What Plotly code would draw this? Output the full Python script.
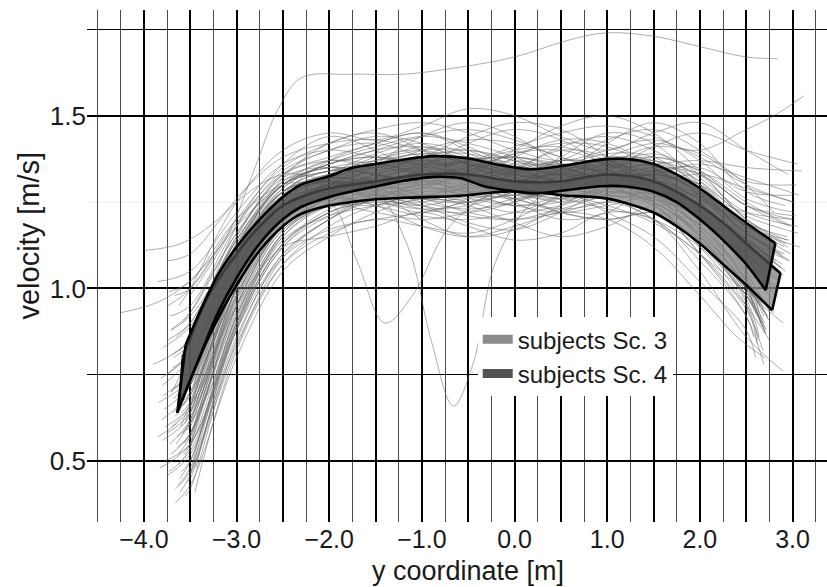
import plotly.graph_objects as go

# ---------------- data ----------------
GRID_X = [-3.5, -3.0, -2.5, -2.0, -1.5, -1.0, -0.5, 0.0, 0.5, 1.0, 1.5, 2.0, 2.5]

# each row: start x, start v, v at GRID_X (None = outside), end x, end v
subjects = [
    [-3.72, 0.55, 0.62, 0.97, 1.18, 1.26, 1.29, 1.31, 1.33, 1.30, 1.28, 1.31, 1.30, 1.22, 1.06, 2.78, 0.97],
    [-3.66, 0.63, 0.70, 1.06, 1.26, 1.31, 1.29, 1.30, 1.35, 1.38, 1.35, 1.31, 1.28, 1.24, 1.14, 2.92, 1.05],
    [-3.80, 0.72, 0.80, 1.12, 1.30, 1.34, 1.37, 1.41, 1.38, 1.33, 1.30, 1.35, 1.39, 1.33, 1.20, 2.95, 1.12],
    [-3.61, 0.45, 0.50, 0.90, 1.14, 1.21, 1.24, 1.27, 1.25, 1.22, 1.24, 1.28, 1.25, 1.15, 0.99, 2.70, 0.90],
    [-3.75, 0.85, 0.90, 1.15, 1.33, 1.40, 1.42, 1.38, 1.33, 1.35, 1.41, 1.44, 1.40, 1.32, 1.22, 3.05, 1.18],
    [-3.55, 0.40, 0.42, 0.85, 1.10, 1.20, 1.26, 1.30, 1.29, 1.26, 1.22, 1.20, 1.22, 1.17, 1.02, 2.65, 0.95],
    [-3.68, 0.68, 0.74, 1.08, 1.27, 1.33, 1.31, 1.27, 1.25, 1.28, 1.33, 1.36, 1.33, 1.25, 1.10, 2.85, 1.02],
    [-3.47, 0.50, None, 0.92, 1.16, 1.25, 1.28, 1.26, 1.30, 1.34, 1.33, 1.29, 1.26, 1.21, 1.12, 2.80, 1.06],
    [-3.90, 0.78, 0.85, 1.13, 1.29, 1.36, 1.38, 1.35, 1.30, 1.27, 1.26, 1.30, 1.34, 1.30, 1.18, 2.98, 1.10],
    [-3.58, 0.58, 0.62, 1.00, 1.22, 1.30, 1.34, 1.36, 1.35, 1.31, 1.28, 1.28, 1.25, 1.15, 0.98, 2.62, 0.92],
    [-3.74, 0.95, 1.00, 1.20, 1.35, 1.42, 1.46, 1.48, 1.45, 1.40, 1.37, 1.40, 1.43, 1.38, 1.30, 3.00, 1.25],
    [-3.63, 0.52, 0.57, 0.93, 1.17, 1.24, 1.22, 1.20, 1.22, 1.26, 1.27, 1.24, 1.19, 1.10, 0.95, 2.75, 0.85],
    [-3.52, 0.60, 0.61, 1.02, 1.23, 1.29, 1.33, 1.38, 1.40, 1.37, 1.32, 1.30, 1.31, 1.27, 1.16, 2.88, 1.10],
    [-3.70, 0.88, 0.92, 1.12, 1.28, 1.32, 1.30, 1.28, 1.29, 1.33, 1.36, 1.34, 1.28, 1.20, 1.10, 2.90, 1.04],
    [-3.44, 0.48, None, 0.88, 1.12, 1.22, 1.25, 1.24, 1.21, 1.20, 1.23, 1.27, 1.30, 1.26, 1.14, 2.82, 1.08],
    [-3.78, 0.65, 0.72, 1.05, 1.24, 1.30, 1.35, 1.40, 1.43, 1.42, 1.38, 1.33, 1.30, 1.24, 1.12, 2.86, 1.03],
    [-3.60, 0.75, 0.79, 1.10, 1.28, 1.33, 1.36, 1.33, 1.29, 1.30, 1.34, 1.38, 1.37, 1.30, 1.18, 2.96, 1.14],
    [-3.66, 0.42, 0.47, 0.86, 1.09, 1.17, 1.20, 1.22, 1.25, 1.27, 1.26, 1.23, 1.20, 1.12, 0.98, 2.72, 0.88],
    [-3.85, 1.02, 1.05, 1.22, 1.36, 1.40, 1.38, 1.36, 1.37, 1.41, 1.45, 1.47, 1.44, 1.37, 1.26, 3.02, 1.22],
    [-3.57, 0.55, 0.58, 0.96, 1.19, 1.27, 1.30, 1.32, 1.31, 1.29, 1.30, 1.33, 1.32, 1.22, 1.05, 2.68, 0.96],
    [-3.71, 0.70, 0.76, 1.08, 1.26, 1.28, 1.27, 1.29, 1.33, 1.36, 1.35, 1.31, 1.26, 1.18, 1.04, 2.76, 0.93],
    [-3.49, 0.66, None, 1.05, 1.25, 1.32, 1.35, 1.37, 1.34, 1.30, 1.27, 1.29, 1.33, 1.29, 1.19, 2.94, 1.15],
    [-3.77, 0.60, 0.66, 1.00, 1.21, 1.26, 1.25, 1.23, 1.24, 1.28, 1.32, 1.33, 1.29, 1.19, 1.03, 2.74, 0.91],
    [-3.62, 0.82, 0.86, 1.14, 1.31, 1.37, 1.41, 1.44, 1.42, 1.38, 1.33, 1.31, 1.34, 1.35, 1.28, 3.00, 1.27],
    [-3.54, 0.44, 0.45, 0.89, 1.13, 1.23, 1.28, 1.31, 1.30, 1.26, 1.23, 1.25, 1.28, 1.24, 1.10, 2.84, 1.00],
    [-3.82, 0.74, 0.81, 1.10, 1.27, 1.31, 1.29, 1.25, 1.23, 1.25, 1.29, 1.30, 1.26, 1.16, 1.00, 2.66, 0.90],
    [-3.64, 0.57, 0.61, 0.99, 1.21, 1.30, 1.36, 1.39, 1.36, 1.32, 1.30, 1.33, 1.36, 1.31, 1.20, 2.93, 1.13],
    [-3.46, 0.72, None, 1.09, 1.28, 1.34, 1.33, 1.30, 1.27, 1.27, 1.30, 1.32, 1.28, 1.17, 1.01, 2.70, 0.93],
    [-3.73, 0.47, 0.53, 0.91, 1.15, 1.25, 1.30, 1.34, 1.37, 1.38, 1.36, 1.33, 1.29, 1.22, 1.09, 2.83, 0.99],
    [-3.59, 0.90, 0.93, 1.16, 1.31, 1.35, 1.37, 1.39, 1.39, 1.36, 1.33, 1.36, 1.41, 1.39, 1.31, 3.04, 1.30],
    [-3.69, 0.64, 0.69, 1.04, 1.24, 1.28, 1.26, 1.24, 1.27, 1.31, 1.33, 1.30, 1.24, 1.13, 0.97, 2.64, 0.86],
    [-3.51, 0.53, 0.54, 0.95, 1.18, 1.26, 1.30, 1.33, 1.34, 1.33, 1.31, 1.28, 1.27, 1.21, 1.08, 2.80, 1.01],
    [-3.79, 0.83, 0.89, 1.14, 1.30, 1.35, 1.33, 1.31, 1.30, 1.29, 1.31, 1.35, 1.37, 1.31, 1.17, 2.97, 1.08],
    [-3.61, 0.68, 0.72, 1.05, 1.25, 1.33, 1.39, 1.42, 1.39, 1.34, 1.32, 1.34, 1.31, 1.20, 1.02, 2.69, 0.92],
    [-3.45, 0.41, None, 0.82, 1.07, 1.18, 1.24, 1.27, 1.26, 1.24, 1.25, 1.29, 1.30, 1.23, 1.08, 2.81, 0.98],
    [-3.76, 0.58, 0.64, 1.00, 1.22, 1.29, 1.32, 1.31, 1.28, 1.26, 1.28, 1.31, 1.30, 1.24, 1.13, 2.88, 1.06],
    [-3.67, 0.98, 1.00, 1.19, 1.33, 1.37, 1.36, 1.34, 1.35, 1.39, 1.42, 1.41, 1.35, 1.27, 1.16, 2.91, 1.10],
    [-3.56, 0.61, 0.64, 1.02, 1.23, 1.30, 1.31, 1.29, 1.30, 1.34, 1.37, 1.36, 1.31, 1.22, 1.10, 2.77, 1.03],
    [-3.84, 0.67, 0.74, 1.06, 1.24, 1.27, 1.24, 1.21, 1.20, 1.22, 1.26, 1.28, 1.27, 1.21, 1.09, 2.87, 1.02],
    [-3.63, 0.49, 0.54, 0.92, 1.16, 1.25, 1.31, 1.36, 1.38, 1.35, 1.30, 1.26, 1.22, 1.14, 0.99, 2.71, 0.87],
    [-3.48, 0.79, None, 1.12, 1.30, 1.36, 1.40, 1.41, 1.37, 1.32, 1.30, 1.32, 1.35, 1.33, 1.24, 2.99, 1.20],
    [-3.71, 0.52, 0.58, 0.95, 1.18, 1.24, 1.26, 1.27, 1.29, 1.30, 1.29, 1.27, 1.26, 1.21, 1.11, 2.85, 1.05],
    [-3.58, 0.73, 0.77, 1.09, 1.27, 1.31, 1.29, 1.26, 1.26, 1.29, 1.35, 1.39, 1.38, 1.29, 1.14, 2.79, 1.06],
    [-3.80, 0.56, 0.63, 0.98, 1.20, 1.28, 1.33, 1.35, 1.33, 1.28, 1.25, 1.27, 1.32, 1.30, 1.21, 3.06, 1.16],
    [-3.53, 0.63, 0.64, 1.03, 1.24, 1.30, 1.29, 1.30, 1.34, 1.39, 1.40, 1.36, 1.29, 1.17, 1.00, 2.67, 0.89],
    [-3.65, 0.86, 0.90, 1.14, 1.30, 1.34, 1.36, 1.37, 1.36, 1.33, 1.31, 1.30, 1.28, 1.23, 1.14, 2.89, 1.07],
    [-3.74, 0.46, 0.52, 0.89, 1.13, 1.22, 1.27, 1.29, 1.27, 1.24, 1.22, 1.24, 1.26, 1.18, 1.02, 2.73, 0.92],
    [-3.57, 0.69, 0.72, 1.06, 1.26, 1.33, 1.35, 1.33, 1.31, 1.31, 1.34, 1.37, 1.37, 1.33, 1.24, 2.97, 1.18],
    [-3.50, 0.55, None, 0.97, 1.20, 1.28, 1.32, 1.35, 1.36, 1.34, 1.31, 1.29, 1.25, 1.16, 1.01, 2.60, 0.95],
    [-3.69, 0.77, 0.81, 1.10, 1.28, 1.32, 1.31, 1.30, 1.32, 1.35, 1.36, 1.33, 1.27, 1.15, 0.96, 2.63, 0.85],
    [-3.62, 0.95, 1.00, 1.25, 1.40, 1.45, 1.43, 1.47, 1.52, 1.50, 1.44, 1.40, 1.45, 1.48, 1.40, 2.95, 1.33],
    [-3.70, 0.60, 0.66, 0.95, 1.12, 1.15, 1.18, 1.22, 1.18, 1.14, 1.16, 1.22, 1.20, 1.08, 0.92, 2.58, 0.86],
    [-3.55, 0.72, 0.74, 1.10, 1.32, 1.42, 1.45, 1.40, 1.32, 1.28, 1.33, 1.42, 1.48, 1.42, 1.28, 2.92, 1.24],
    [-3.78, 0.50, 0.55, 0.88, 1.10, 1.20, 1.28, 1.35, 1.42, 1.46, 1.43, 1.35, 1.25, 1.10, 0.94, 2.68, 0.82],
    [-3.48, 0.84, None, 1.18, 1.36, 1.44, 1.40, 1.33, 1.28, 1.30, 1.38, 1.45, 1.42, 1.30, 1.18, 3.08, 1.12],
    [-3.66, 0.38, 0.43, 0.80, 1.05, 1.15, 1.22, 1.26, 1.24, 1.19, 1.15, 1.18, 1.24, 1.22, 1.12, 2.86, 1.04],
    [-3.74, 1.08, 1.10, 1.25, 1.33, 1.31, 1.26, 1.22, 1.26, 1.34, 1.40, 1.38, 1.30, 1.18, 1.05, 2.75, 0.98],
    [-3.59, 0.47, 0.50, 0.90, 1.16, 1.27, 1.36, 1.44, 1.48, 1.44, 1.36, 1.30, 1.28, 1.27, 1.22, 3.00, 1.20],
    [-3.81, 0.62, 0.70, 1.02, 1.22, 1.30, 1.28, 1.20, 1.15, 1.17, 1.24, 1.30, 1.33, 1.28, 1.16, 2.90, 1.09],
    [-3.52, 0.56, 0.57, 0.98, 1.21, 1.28, 1.27, 1.25, 1.30, 1.38, 1.43, 1.42, 1.35, 1.22, 1.04, 2.64, 0.93],
    [-3.68, 0.80, 0.84, 1.13, 1.30, 1.36, 1.40, 1.44, 1.46, 1.43, 1.38, 1.35, 1.36, 1.37, 1.35, 3.10, 1.34],
    [-3.63, 0.43, 0.48, 0.84, 1.07, 1.16, 1.20, 1.18, 1.16, 1.20, 1.27, 1.32, 1.30, 1.20, 1.02, 2.70, 0.88],
    [-3.46, 0.68, None, 1.03, 1.24, 1.32, 1.38, 1.40, 1.36, 1.28, 1.22, 1.20, 1.22, 1.19, 1.10, 2.83, 1.03],
    [-3.76, 0.75, 0.82, 1.12, 1.30, 1.37, 1.35, 1.38, 1.44, 1.48, 1.46, 1.38, 1.28, 1.14, 0.98, 2.71, 0.87],
    [-3.57, 0.52, 0.55, 0.94, 1.17, 1.24, 1.29, 1.33, 1.31, 1.25, 1.20, 1.22, 1.30, 1.33, 1.29, 3.02, 1.25],
    [-3.71, 0.88, 0.93, 1.16, 1.32, 1.35, 1.31, 1.27, 1.28, 1.33, 1.37, 1.36, 1.30, 1.22, 1.14, 2.96, 1.08],
    [-3.60, 0.64, 0.67, 1.04, 1.27, 1.37, 1.42, 1.45, 1.41, 1.35, 1.31, 1.34, 1.41, 1.45, 1.40, 3.05, 1.36],
    [-3.85, 0.57, 0.65, 0.98, 1.18, 1.24, 1.24, 1.26, 1.31, 1.33, 1.29, 1.22, 1.15, 1.02, 0.88, 2.60, 0.80],
    [-3.50, 0.46, None, 0.88, 1.12, 1.21, 1.26, 1.24, 1.19, 1.17, 1.22, 1.29, 1.33, 1.28, 1.15, 2.88, 1.06],
    [-3.66, 0.71, 0.75, 1.08, 1.28, 1.34, 1.33, 1.31, 1.33, 1.40, 1.47, 1.50, 1.45, 1.34, 1.20, 2.94, 1.14],
    [-3.73, 0.99, 1.02, 1.20, 1.30, 1.30, 1.28, 1.29, 1.34, 1.37, 1.34, 1.27, 1.20, 1.10, 0.98, 2.66, 0.90],
    [-3.54, 0.59, 0.60, 1.00, 1.23, 1.31, 1.37, 1.40, 1.40, 1.37, 1.34, 1.31, 1.27, 1.18, 1.02, 2.57, 0.95],
    [-3.79, 0.69, 0.76, 1.07, 1.25, 1.30, 1.31, 1.33, 1.37, 1.38, 1.35, 1.32, 1.33, 1.36, 1.32, 3.07, 1.27],
    [-3.61, 0.41, 0.46, 0.83, 1.09, 1.20, 1.26, 1.28, 1.30, 1.32, 1.34, 1.34, 1.28, 1.17, 1.01, 2.74, 0.91],
    [-3.69, 0.81, 0.85, 1.12, 1.28, 1.31, 1.27, 1.23, 1.22, 1.25, 1.31, 1.36, 1.38, 1.34, 1.25, 2.99, 1.18],
    [-3.64, 0.54, 0.58, 0.95, 1.18, 1.26, 1.30, 1.31, 1.28, 1.24, 1.27, 1.33, 1.34, 1.27, 1.12, 2.79, 0.99],
    [-3.47, 0.77, None, 1.10, 1.29, 1.36, 1.38, 1.36, 1.32, 1.28, 1.26, 1.27, 1.24, 1.12, 0.95, 2.62, 0.84],
    [-3.83, 0.48, 0.55, 0.90, 1.13, 1.22, 1.26, 1.31, 1.36, 1.40, 1.41, 1.37, 1.32, 1.26, 1.18, 2.91, 1.12],
    [-3.58, 0.66, 0.69, 1.05, 1.26, 1.32, 1.30, 1.26, 1.25, 1.30, 1.35, 1.33, 1.25, 1.10, 0.92, 2.69, 0.78],
    [-3.72, 0.92, 0.95, 1.18, 1.34, 1.40, 1.44, 1.42, 1.36, 1.31, 1.30, 1.34, 1.38, 1.34, 1.24, 3.03, 1.21],
]

# unusual trajectories, given point by point
outlier_x = [
    [-3.50, -3.1, -2.8, -2.55, -2.3, -1.8, -1.2, -0.6, 0.0, 0.6, 1.0, 1.5, 2.0, 2.5, 2.84],
    [-4.00, -3.6, -3.2, -2.9, -2.5, -2.0, -1.5, -1.0, -0.5, 0.0, 0.5, 1.0, 1.5, 2.0, 2.5, 2.8],
    [-3.60, -3.0, -2.5, -2.0, -1.5, -1.15, -0.9, -0.66, -0.45, -0.2, 0.2, 0.7, 1.2, 1.7, 2.2, 2.6, 2.9],
    [-3.70, -3.0, -2.5, -2.0, -1.7, -1.4, -1.1, -0.7, -0.2, 0.5, 1.0, 1.5, 2.0, 2.5, 2.8],
    [-3.60, -3.0, -2.5, -2.0, -1.5, -1.0, -0.5, 0.0, 0.5, 1.0, 1.5, 2.0, 2.5, 2.8, 3.12],
    [-4.25, -3.9, -3.6, -3.3, -3.0, -2.5, -2.0, -1.5, -1.0, -0.5, 0.0, 0.5, 1.0, 1.5, 2.0, 2.5, 2.75],
    [-3.65, -3.3, -3.0, -2.5, -2.0, -1.5, -1.0, -0.5, 0.0, 0.5, 1.0, 1.5, 2.0, 2.5, 2.9],
    [-3.55, -3.0, -2.5, -2.0, -1.5, -1.0, -0.5, 0.0, 0.5, 1.0, 1.5, 2.0, 2.4, 2.7],
]
outlier_v = [
    [0.98, 1.15, 1.35, 1.52, 1.61, 1.62, 1.62, 1.64, 1.67, 1.72, 1.74, 1.73, 1.70, 1.67, 1.665],
    [1.11, 1.13, 1.20, 1.29, 1.38, 1.42, 1.43, 1.40, 1.36, 1.34, 1.37, 1.43, 1.46, 1.40, 1.30, 1.22],
    [0.60, 1.00, 1.22, 1.30, 1.28, 1.12, 0.85, 0.66, 0.78, 1.08, 1.25, 1.30, 1.28, 1.22, 1.10, 0.97, 0.90],
    [0.70, 1.05, 1.25, 1.25, 1.08, 0.90, 0.98, 1.18, 1.28, 1.30, 1.27, 1.25, 1.15, 1.00, 0.93],
    [0.80, 1.15, 1.33, 1.38, 1.42, 1.45, 1.40, 1.35, 1.33, 1.38, 1.42, 1.40, 1.46, 1.50, 1.557],
    [0.93, 0.955, 1.00, 1.08, 1.18, 1.30, 1.35, 1.33, 1.30, 1.28, 1.30, 1.33, 1.31, 1.27, 1.20, 1.08, 1.00],
    [0.55, 0.70, 0.92, 1.15, 1.24, 1.27, 1.26, 1.22, 1.20, 1.22, 1.25, 1.20, 1.05, 0.86, 0.76],
    [0.62, 1.00, 1.20, 1.26, 1.24, 1.18, 1.15, 1.18, 1.22, 1.20, 1.12, 0.98, 0.86, 0.80],
]

# Sc. 3 band (lighter) boundaries
sc3_upper_x = [-3.58, -3.3, -3.0, -2.75, -2.5, -2.25, -2.0, -1.5, -1.0, -0.5, 0.0, 0.5, 1.0, 1.5, 2.0, 2.25, 2.5, 2.87]
sc3_upper_v = [0.80, 0.98, 1.10, 1.18, 1.24, 1.27, 1.29, 1.31, 1.33, 1.33, 1.31, 1.31, 1.33, 1.31, 1.24, 1.19, 1.13, 1.044]
sc3_lower_x = [-3.62, -3.3, -3.0, -2.75, -2.5, -2.31, -2.0, -1.77, -1.5, -1.23, -0.87, -0.5, -0.15, 0.2, 0.5, 1.0, 1.5, 1.75, 2.0, 2.25, 2.5, 2.78]
sc3_lower_v = [0.66, 0.86, 1.01, 1.11, 1.18, 1.215, 1.24, 1.25, 1.258, 1.262, 1.265, 1.27, 1.28, 1.28, 1.27, 1.26, 1.22, 1.18, 1.13, 1.07, 1.01, 0.937]

# Sc. 4 band (darker) boundaries
sc4_upper_x = [-3.55, -3.4, -3.2, -3.0, -2.75, -2.5, -2.31, -2.0, -1.77, -1.5, -1.23, -0.87, -0.51, -0.15, 0.2, 0.57, 0.93, 1.2, 1.5, 1.75, 2.0, 2.25, 2.5, 2.815]
sc4_upper_v = [0.836, 0.93, 1.04, 1.12, 1.20, 1.265, 1.30, 1.325, 1.348, 1.36, 1.372, 1.383, 1.377, 1.357, 1.345, 1.357, 1.373, 1.375, 1.36, 1.33, 1.29, 1.24, 1.19, 1.131]
sc4_lower_x = [-3.64, -3.4, -3.2, -3.0, -2.75, -2.5, -2.31, -2.0, -1.77, -1.5, -1.23, -0.87, -0.58, -0.33, 0.03, 0.2, 0.57, 0.93, 1.2, 1.5, 1.75, 2.0, 2.25, 2.5, 2.71]
sc4_lower_v = [0.64, 0.80, 0.93, 1.03, 1.13, 1.20, 1.235, 1.265, 1.28, 1.295, 1.31, 1.323, 1.319, 1.296, 1.28, 1.275, 1.285, 1.296, 1.295, 1.28, 1.25, 1.20, 1.14, 1.07, 0.995]

legend_names = ["subjects Sc. 3", "subjects Sc. 4"]
legend_colors = ["#8a8a8a", "#545454"]

x_major = [-4.0, -3.5, -3.0, -2.5, -2.0, -1.5, -1.0, -0.5, 0.0, 0.5, 1.0, 1.5, 2.0, 2.5, 3.0]
x_minor = [-4.5, -4.25, -3.75, -3.25, -2.75, -2.25, -1.75, -1.25, -0.75, -0.25,
           0.25, 0.75, 1.25, 1.75, 2.25, 2.75, 3.25]
x_labels = ["\u22124.0", "", "\u22123.0", "", "\u22122.0", "", "\u22121.0", "",
            "0.0", "", "1.0", "", "2.0", "", "3.0"]
y_major = [0.5, 1.0, 1.5]
y_labels = ["0.5", "1.0", "1.5"]
y_minor = [0.75, 1.75]
y_faint = 1.25

# ---------------- figure ----------------
FONT = "Liberation Sans, Arial, Helvetica, sans-serif"
fig = go.Figure()

traj_style = dict(color="rgba(105,105,105,0.6)", width=0.9, shape="spline", smoothing=1.0)

for row in subjects:
    x0, v0 = row[0], row[1]
    vals = row[2:2 + len(GRID_X)]
    x1, v1 = row[-2], row[-1]
    xs, vs = [x0], [v0]
    for g, v in zip(GRID_X, vals):
        if v is not None and x0 < g < x1:
            xs.append(g)
            vs.append(v)
    xs.append(x1)
    vs.append(v1)
    fig.add_trace(go.Scatter(x=xs, y=vs, mode="lines", line=traj_style,
                             showlegend=False, hoverinfo="skip"))

for xs, vs in zip(outlier_x, outlier_v):
    fig.add_trace(go.Scatter(x=xs, y=vs, mode="lines", line=traj_style,
                             showlegend=False, hoverinfo="skip"))


def add_band(ux, uv, lx, lv, fill):
    edge = dict(color="black", width=2.6, shape="spline", smoothing=0.9)
    fig.add_trace(go.Scatter(x=lx, y=lv, mode="lines", line=edge,
                             showlegend=False, hoverinfo="skip"))
    fig.add_trace(go.Scatter(x=ux, y=uv, mode="lines", line=edge, fill="tonexty",
                             fillcolor=fill, showlegend=False, hoverinfo="skip"))
    for i in (0, -1):
        fig.add_trace(go.Scatter(x=[ux[i], lx[i]], y=[uv[i], lv[i]], mode="lines",
                                 line=dict(color="black", width=2.6),
                                 showlegend=False, hoverinfo="skip"))


add_band(sc3_upper_x, sc3_upper_v, sc3_lower_x, sc3_lower_v, "rgba(135,135,135,0.75)")
add_band(sc4_upper_x, sc4_upper_v, sc4_lower_x, sc4_lower_v, "rgba(75,75,75,0.78)")

for name, col in zip(legend_names, legend_colors):
    fig.add_trace(go.Scatter(x=[None], y=[None], mode="lines", name=name,
                             line=dict(color=col, width=9)))

fig.add_shape(type="line", xref="paper", x0=0, x1=1, yref="y", y0=y_faint, y1=y_faint,
              line=dict(color="#ececec", width=1), layer="below")

fig.update_layout(
    width=827, height=587,
    margin=dict(l=87, r=0, t=10, b=65),
    paper_bgcolor="white", plot_bgcolor="white",
    font=dict(family=FONT, color="#1a1a1a", size=24),
    xaxis=dict(range=[-4.614, 3.372], tickmode="array", tickvals=x_major, ticktext=x_labels,
               showgrid=True, gridcolor="black", gridwidth=1.6,
               minor=dict(tickmode="array", tickvals=x_minor, showgrid=True,
                          gridcolor="#4a4a4a", gridwidth=1),
               zeroline=False, showline=False, ticks="",
               tickfont=dict(size=25, family=FONT, color="#1a1a1a")),
    yaxis=dict(range=[0.324, 1.806], tickmode="array", tickvals=y_major, ticktext=y_labels,
               showgrid=True, gridcolor="black", gridwidth=2,
               minor=dict(tickmode="array", tickvals=y_minor, showgrid=True,
                          gridcolor="black", gridwidth=1.2),
               zeroline=False, showline=False, ticks="",
               tickfont=dict(size=26, family=FONT, color="#1a1a1a")),
    legend=dict(x=0.528, y=0.40, xanchor="left", yanchor="top", traceorder="normal",
                bgcolor="white", borderwidth=0,
                font=dict(size=24, family=FONT, color="#1a1a1a")),
    annotations=[
        dict(text="velocity [m/s]", xref="paper", yref="paper", x=-0.078, y=0.56,
             textangle=-90, showarrow=False, xanchor="center", yanchor="middle",
             font=dict(size=29, family=FONT, color="#1a1a1a")),
        dict(text="y coordinate [m]", xref="paper", yref="paper", x=0.515, y=-0.0965,
             showarrow=False, xanchor="center", yanchor="middle",
             font=dict(size=27, family=FONT, color="#1a1a1a")),
    ],
)

fig.write_html("out.html")
